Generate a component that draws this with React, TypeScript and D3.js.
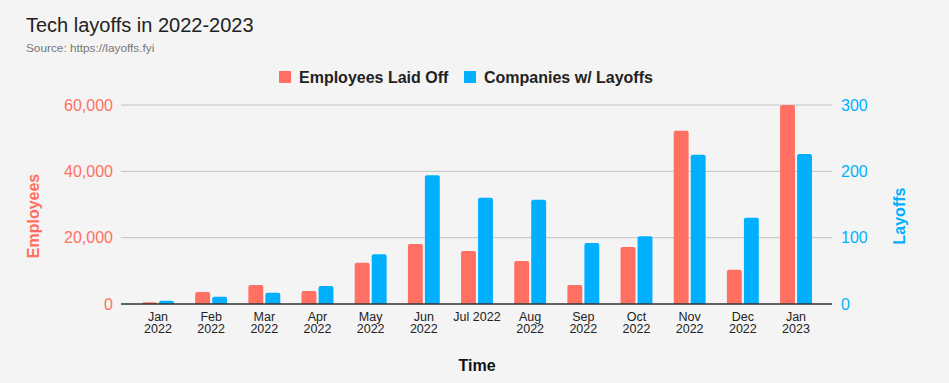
import React from "react";
import * as d3 from "d3";

const categories = ["Jan 2022","Feb 2022","Mar 2022","Apr 2022","May 2022","Jun 2022","Jul 2022","Aug 2022","Sep 2022","Oct 2022","Nov 2022","Dec 2022","Jan 2023"];
const tickLines = [["Jan","2022"],["Feb","2022"],["Mar","2022"],["Apr","2022"],["May","2022"],["Jun","2022"],["Jul 2022"],["Aug","2022"],["Sep","2022"],["Oct","2022"],["Nov","2022"],["Dec","2022"],["Jan","2023"]];
const employeesLaidOff = [510, 3600, 5700, 3900, 12400, 18100, 16000, 13000, 5700, 17200, 52200, 10300, 60000];
const companiesWithLayoffs = [5, 11, 17, 27, 75, 194, 160, 157, 92, 102, 225, 130, 226];
const leftTicks = [0, 20000, 40000, 60000];
const rightTicks = [0, 100, 200, 300];
const seriesNames = ["Employees Laid Off", "Companies w/ Layoffs"];

const RED = "#ff7062";
const BLUE = "#00b0ff";
const FONT = "'Liberation Sans', Arial, sans-serif";

function topRounded(x: number, y: number, w: number, h: number, r: number) {
  const rr = Math.min(r, h, w / 2);
  if (h <= 0) return "";
  return `M${x},${y + h}V${y + rr}Q${x},${y} ${x + rr},${y}H${x + w - rr}Q${x + w},${y} ${x + w},${y + rr}V${y + h}Z`;
}

export default function App() {
  const W = 949, H = 383;
  const left = 131.4, right = 822.6, top = 105, bottom = 304;
  const x0 = d3.scaleBand<string>().domain(categories).range([left, right]).paddingInner(0.4).paddingOuter(0.2);
  const x1 = d3.scaleBand<string>().domain(seriesNames).range([0, x0.bandwidth()]).paddingInner(0.124);
  const yL = d3.scaleLinear().domain([0, 60000]).range([bottom, top]);
  const yR = d3.scaleLinear().domain([0, 300]).range([bottom, top]);
  const fmt = d3.format(",");

  return (
    <svg width={W} height={H} style={{ position: "absolute", left: 0, top: 0, background: "#f4f4f4", fontFamily: FONT }}>
      <rect x={0} y={0} width={W} height={H} fill="#f4f4f4" />
      <text x={26} y={32} fontSize={20} fill="#222">Tech layoffs in 2022-2023</text>
      <text x={26} y={52} fontSize={11.8} fill="#777">Source: https://layoffs.fyi</text>

      {/* legend */}
      <rect x={279} y={71} width={12} height={12} fill={RED} />
      <text x={299} y={82.5} fontSize={16} fontWeight="bold" fill="#222">{seriesNames[0]}</text>
      <rect x={464} y={71} width={12} height={12} fill={BLUE} />
      <text x={484} y={82.5} fontSize={16} fontWeight="bold" fill="#222">{seriesNames[1]}</text>

      {/* gridlines */}
      {leftTicks.filter(t => t > 0).map(t => (
        <line key={t} x1={121} x2={832} y1={yL(t)} y2={yL(t)} stroke="#c2c2c2" strokeWidth={1} />
      ))}

      {/* bars */}
      {categories.map((c, i) => {
        const bx = x0(c)!;
        const xr = bx + x1(seriesNames[0])!;
        const xb = bx + x1(seriesNames[1])!;
        const bw = x1.bandwidth();
        const yr = yL(employeesLaidOff[i]);
        const yb = yR(companiesWithLayoffs[i]);
        return (
          <g key={c}>
            <path d={topRounded(xr, yr, bw, bottom - yr, 2)} fill={RED} />
            <path d={topRounded(xb, yb, bw, bottom - yb, 2)} fill={BLUE} />
          </g>
        );
      })}

      {/* baseline */}
      <line x1={121} x2={832} y1={bottom} y2={bottom} stroke="#333" strokeWidth={1.5} />

      {/* left axis labels */}
      {leftTicks.map(t => (
        <text key={t} x={113} y={yL(t) + 5.5} fontSize={16} fill={RED} textAnchor="end">{fmt(t)}</text>
      ))}
      {/* right axis labels */}
      {rightTicks.map(t => (
        <text key={t} x={841} y={yR(t) + 5.5} fontSize={16} fill={BLUE}>{t}</text>
      ))}

      {/* x tick labels */}
      {categories.map((c, i) => {
        const cx = x0(c)! + x0.bandwidth() / 2;
        return (
          <text key={c} x={cx} y={320.5} fontSize={12.5} fill="#222" textAnchor="middle">
            {tickLines[i].map((l, j) => (
              <tspan key={j} x={cx} dy={j === 0 ? 0 : 12.8}>{l}</tspan>
            ))}
          </text>
        );
      })}

      {/* axis titles */}
      <text transform="translate(39,216) rotate(-90)" fontSize={16} fontWeight="bold" fill={RED} textAnchor="middle">Employees</text>
      <text transform="translate(905,216) rotate(-90)" fontSize={16} fontWeight="bold" fill={BLUE} textAnchor="middle">Layoffs</text>
      <text x={477} y={371} fontSize={16} fontWeight="bold" fill="#111" textAnchor="middle">Time</text>
    </svg>
  );
}
